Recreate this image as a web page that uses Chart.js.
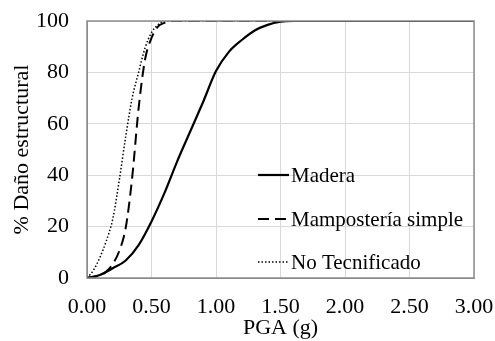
<!DOCTYPE html>
<html>
<head>
<meta charset="utf-8">
<script src="https://cdn.jsdelivr.net/npm/chart.js@4.4.0/dist/chart.umd.min.js"></script>
<style>
  html, body { margin: 0; padding: 0; background: #fff; }
  #wrap { width: 495px; height: 341px; position: relative; }
</style>
</head>
<body>
<div id="wrap"><canvas id="chart"></canvas></div>
<script>
// PGA (g) vs % damage
const maderaX = [0, 0.1, 0.2, 0.3, 0.4, 0.5, 0.6, 0.7, 0.8, 0.9, 1.0, 1.1, 1.2, 1.3, 1.4, 1.5, 1.6, 3.0];
const maderaY = [0, 1.2, 3.8, 6.8, 12.8, 22, 33, 45.5, 57, 68.5, 80.5, 88, 92.6, 96.3, 98.5, 99.7, 100, 100];

const mamposteriaX = [0, 0.1, 0.15, 0.2, 0.25, 0.3, 0.35, 0.4, 0.45, 0.5, 0.55, 0.6, 0.65, 3.0];
const mamposteriaY = [0, 1, 2.5, 5.5, 10.5, 19.5, 39, 66, 85, 93.4, 97.8, 99.3, 100, 100];

const noTecX = [0, 0.05, 0.1, 0.15, 0.2, 0.25, 0.3, 0.35, 0.4, 0.45, 0.5, 0.55, 0.6, 3.0];
const noTecY = [0, 3, 8, 14.5, 23, 38, 55, 70, 80, 89.5, 95.5, 98.5, 100, 100];

const seriesLabels = ['Madera', 'Mampostería simple', 'No Tecnificado'];
const xTicks = [0, 0.5, 1.0, 1.5, 2.0, 2.5, 3.0];
const yTicks = [0, 20, 40, 60, 80, 100];

const FONT = '"Liberation Serif", "Times New Roman", serif';

function pts(xs, ys) {
  return xs.map((x, i) => ({ x: x, y: ys[i] }));
}

// legend drawn inside the plot, lower right
const insideLegend = {
  id: 'insideLegend',
  afterDraw(chart) {
    const ctx = chart.ctx;
    const area = chart.chartArea;
    const x0 = area.left + 171;
    const rows = [area.top + 154, area.top + 198, area.top + 241];
    ctx.save();
    chart.data.datasets.forEach((ds, i) => {
      const y = rows[i];
      ctx.beginPath();
      ctx.strokeStyle = ds.borderColor;
      ctx.lineWidth = ds.borderWidth;
      ctx.setLineDash(ds.borderDash || []);
      ctx.moveTo(x0, y);
      ctx.lineTo(x0 + 31, y);
      ctx.stroke();
      ctx.setLineDash([]);
      ctx.fillStyle = '#000';
      ctx.font = '21px ' + FONT;
      ctx.textBaseline = 'middle';
      ctx.fillText(ds.label, x0 + 33, y + 1);
    });
    ctx.restore();
  }
};

// box around the plot area
const plotBorder = {
  id: 'plotBorder',
  afterDatasetsDraw(chart) {
    const a = chart.chartArea;
    const ctx = chart.ctx;
    ctx.save();
    ctx.strokeStyle = '#8c8c8c';
    ctx.lineWidth = 1.5;
    ctx.strokeRect(a.left, a.top, a.right - a.left, a.bottom - a.top);
    ctx.restore();
  }
};

new Chart(document.getElementById('chart').getContext('2d'), {
  type: 'line',
  data: {
    datasets: [{
      label: seriesLabels[0],
      data: pts(maderaX, maderaY),
      borderColor: '#000',
      borderWidth: 2.2,
      cubicInterpolationMode: 'monotone'
    }, {
      label: seriesLabels[1],
      data: pts(mamposteriaX, mamposteriaY),
      borderColor: '#000',
      borderWidth: 2,
      borderDash: [11, 6],
      cubicInterpolationMode: 'monotone'
    }, {
      label: seriesLabels[2],
      data: pts(noTecX, noTecY),
      borderColor: '#000',
      borderWidth: 1.5,
      borderDash: [1.5, 2],
      cubicInterpolationMode: 'monotone'
    }]
  },
  options: {
    responsive: true,
    maintainAspectRatio: false,
    animation: false,
    elements: { point: { radius: 0 } },
    layout: { padding: { top: 21, right: 21, left: 9, bottom: 0 } },
    plugins: {
      legend: { display: false },
      tooltip: { enabled: false }
    },
    scales: {
      x: {
        type: 'linear',
        min: 0,
        max: 3,
        afterBuildTicks: s => { s.ticks = xTicks.map(v => ({ value: v })); },
        afterFit: s => { s.height = 63; s.paddingLeft = 0; s.paddingRight = 0; },
        ticks: {
          color: '#000',
          font: { family: FONT, size: 22 },
          padding: 16,
          maxRotation: 0,
          callback: v => v.toFixed(2)
        },
        grid: { color: '#d9d9d9', drawTicks: false },
        border: { color: '#8c8c8c' },
        title: {
          display: true,
          text: 'PGA (g)',
          color: '#000',
          font: { family: FONT, size: 22 },
          padding: { top: 0, bottom: 0 }
        }
      },
      y: {
        min: 0,
        max: 100,
        afterBuildTicks: s => { s.ticks = yTicks.map(v => ({ value: v })); },
        afterFit: s => { s.width = 78; s.paddingTop = 0; s.paddingBottom = 0; },
        ticks: {
          color: '#000',
          font: { family: FONT, size: 22 },
          padding: 18
        },
        grid: { color: '#d9d9d9', drawTicks: false },
        border: { color: '#8c8c8c' },
        title: {
          display: true,
          text: '% Daño estructural',
          color: '#000',
          font: { family: FONT, size: 22 },
          padding: { top: 0, bottom: 0 }
        }
      }
    }
  },
  plugins: [plotBorder, insideLegend]
});
</script>
</body>
</html>
